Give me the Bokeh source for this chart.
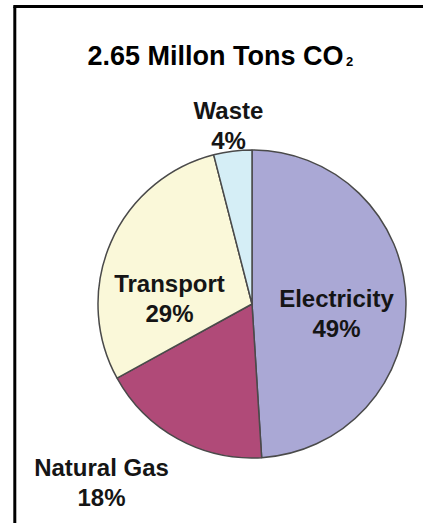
import math
from bokeh.plotting import figure
from bokeh.models import ColumnDataSource, Range1d
from bokeh.core.properties import value
from bokeh.embed import file_html
from bokeh.resources import INLINE

# CO2 emissions by source (share of total, %)
categories = ["Electricity", "Natural Gas", "Transport", "Waste"]
shares = [49, 18, 29, 4]
colors = ["#AAA8D5", "#B04A78", "#FAF8D9", "#D5EEF6"]
title_main = "2.65 Millon Tons CO"
title_sub = "2"

W, H = 423, 523
FONT = value("Liberation Sans")

# pie geometry in pixel-like data units (y grows upward)
cx, cy, r = 251.5, H - 303.5, 154

total = sum(shares)
starts, ends, acc = [], [], 0.0
for s in shares:
    starts.append(math.pi / 2 - 2 * math.pi * acc / total)
    acc += s
    ends.append(math.pi / 2 - 2 * math.pi * acc / total)

src = ColumnDataSource(dict(cat=categories, share=shares, color=colors,
                            start=starts, end=ends))

p = figure(width=W, height=H, output_backend="svg", toolbar_location=None,
           x_range=Range1d(0, W), y_range=Range1d(0, H), min_border=0)
p.xaxis.visible = False
p.yaxis.visible = False
p.xgrid.visible = False
p.ygrid.visible = False
p.outline_line_color = None
p.background_fill_color = "white"
p.border_fill_color = "white"

# frame: left and top edges only
p.segment(x0=[14.3, 12.8], y0=[0, H - 6], x1=[14.3, W], y1=[H - 6, H - 6],
          line_color="black", line_width=3)

p.wedge(x=cx, y=cy, radius=r, start_angle="start", end_angle="end",
        direction="clock", fill_color="color", line_color="#4a4a4a",
        line_width=1.5, source=src)

# label anchors: (x, baseline of first line) measured from top
label_pos = {"Electricity": (336, 298), "Natural Gas": (101, 467),
             "Transport": (169, 283), "Waste": (228, 110)}
line_gap = 30
lx = [label_pos[c][0] for c in categories]
ly1 = [H - label_pos[c][1] for c in categories]
ly2 = [y - line_gap for y in ly1]
pct = [f"{s}%" for s in shares]
for ys, txt in ((ly1, categories), (ly2, pct)):
    p.text(x=lx, y=ys, text=txt, text_font=FONT, text_font_style="bold",
           text_font_size="24px", text_align="center",
           text_baseline="alphabetic", text_color="#151515")

# title with subscript
p.text(x=[87], y=[H - 55], text=[title_main], text_font=FONT,
       text_font_style="bold", text_font_size="27px", text_align="left",
       text_baseline="alphabetic", text_color="black")
p.text(x=[345.5], y=[H - 61], text=[title_sub], text_font=FONT,
       text_font_style="bold", text_font_size="13px", text_align="left",
       text_baseline="alphabetic", text_color="black")

open("out.html", "w").write(file_html(p, INLINE))
